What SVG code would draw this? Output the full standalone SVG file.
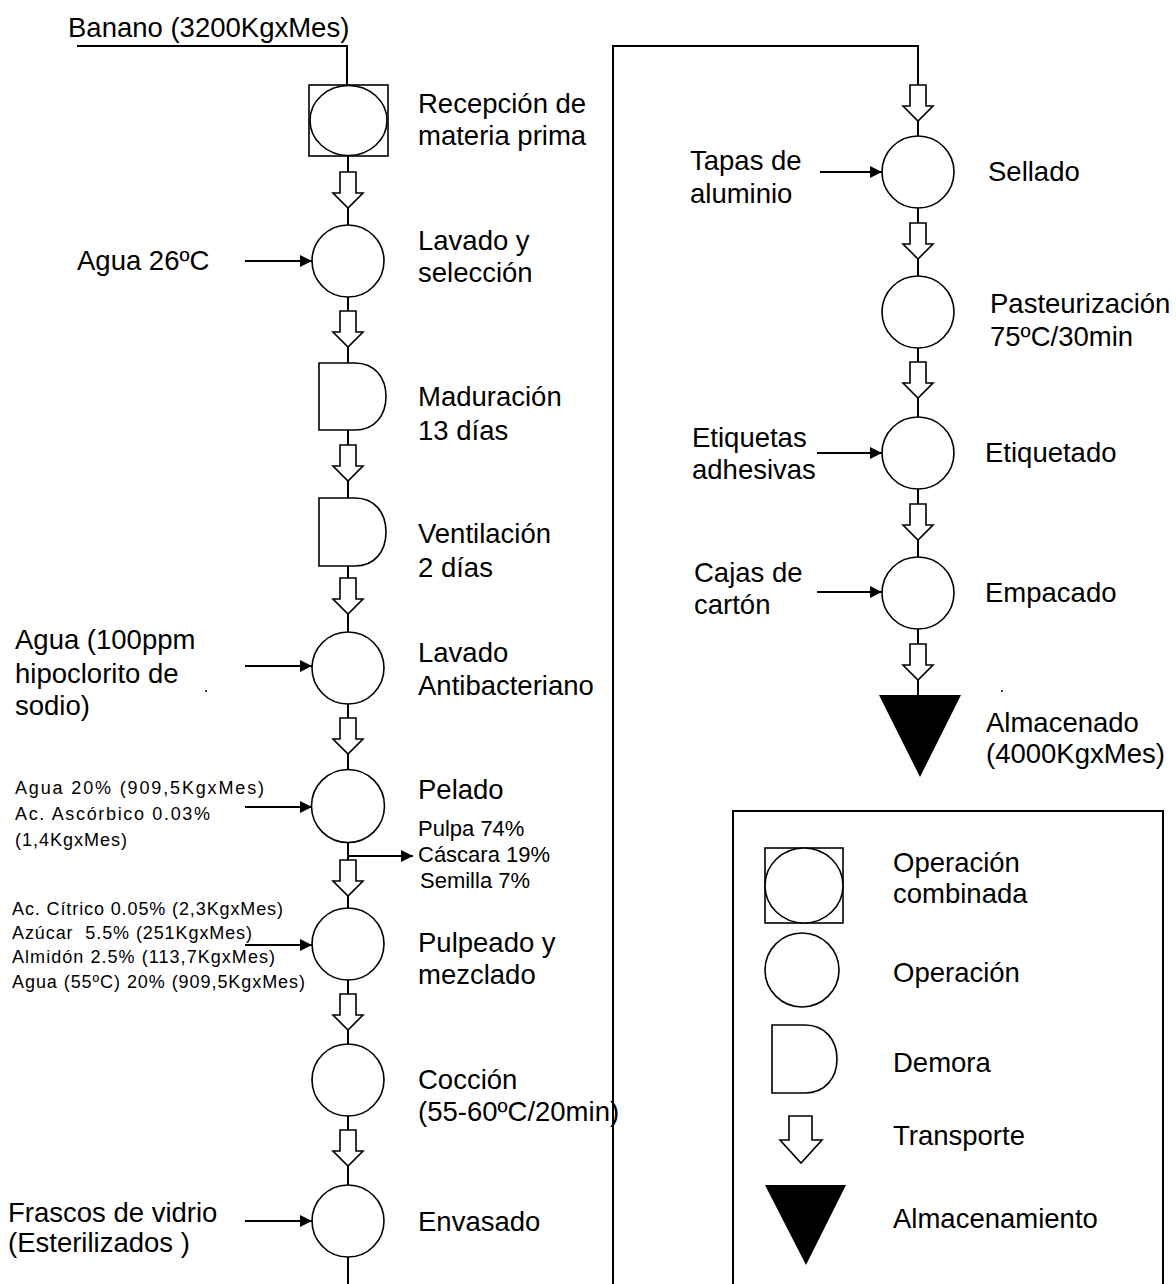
<svg xmlns="http://www.w3.org/2000/svg" xmlns:xlink="http://www.w3.org/1999/xlink" width="1176" height="1284" viewBox="0 0 1176 1284">
<style>
  text { font-family: "Liberation Sans", Arial, sans-serif; fill: #000; }
  .lg { font-size: 27.5px; }
  .md { font-size: 22px; }
  .sm { font-size: 18px; white-space: pre; }
  .shape { fill: #fff; stroke: #000; stroke-width: 1.6; }
  .line { fill: none; stroke: #000; stroke-width: 2; }
  .inp { fill: none; stroke: #000; stroke-width: 2; marker-end: url(#ah); }
  .tr { fill: #fff; stroke: #000; stroke-width: 1.6; }
  .st { fill: #000; stroke: none; }
</style>
<defs>
  <marker id="ah" markerUnits="userSpaceOnUse" viewBox="0 0 12 12" refX="12" refY="6" markerWidth="12" markerHeight="12" orient="auto">
    <path d="M0,0 L12,6 L0,12 Z" fill="#000"/>
  </marker>
  <path id="tr" class="tr" d="M-8,0 H8 V21 H15 L0,36 L-15,21 H-8 Z"/>
</defs>

<g id="connectors">
  <!-- left column -->
  <path class="line" d="M77,46 H347 V85"/>
  <path class="line" d="M348,156 V172 M348,208 V225"/>
  <path class="line" d="M348,297 V311 M348,347 V363"/>
  <path class="line" d="M348,430 V445 M348,481 V498"/>
  <path class="line" d="M348,566 V578 M348,614 V632"/>
  <path class="line" d="M348,704 V718 M348,754 V770"/>
  <path class="line" d="M348,843 V860 M348,896 V908"/>
  <path class="line" d="M348,980 V994 M348,1030 V1044"/>
  <path class="line" d="M348,1116 V1130 M348,1166 V1185"/>
  <path class="line" d="M348,1257 V1284"/>
  <path class="inp" d="M348,856 H413"/>
  <path class="inp" d="M245,261 H312"/>
  <path class="inp" d="M245,666 H312"/>
  <path class="inp" d="M245,807 H312"/>
  <path class="inp" d="M245,945 H312"/>
  <path class="inp" d="M245,1221 H312"/>
  <!-- right column -->
  <path class="line" d="M613,1284 V46 H918 V85"/>
  <path class="line" d="M918,121 V136"/>
  <path class="line" d="M918,208 V223 M918,259 V276"/>
  <path class="line" d="M918,348 V362 M918,398 V417"/>
  <path class="line" d="M918,489 V504 M918,540 V557"/>
  <path class="line" d="M918,629 V644 M918,680 V695"/>
  <path class="inp" d="M820,172 H882"/>
  <path class="inp" d="M817,453 H882"/>
  <path class="inp" d="M817,592 H882"/>
  <!-- transport arrows -->
  <use xlink:href="#tr" x="348" y="172"/>
  <use xlink:href="#tr" x="348" y="311"/>
  <use xlink:href="#tr" x="348" y="445"/>
  <use xlink:href="#tr" x="348" y="578"/>
  <use xlink:href="#tr" x="348" y="718"/>
  <use xlink:href="#tr" x="348" y="860"/>
  <use xlink:href="#tr" x="348" y="994"/>
  <use xlink:href="#tr" x="348" y="1130"/>
  <use xlink:href="#tr" x="918" y="85"/>
  <use xlink:href="#tr" x="918" y="223"/>
  <use xlink:href="#tr" x="918" y="362"/>
  <use xlink:href="#tr" x="918" y="504"/>
  <use xlink:href="#tr" x="918" y="644"/>
</g>

<text class="lg" x="68" y="37">Banano (3200KgxMes)</text>

<g id="recepcion">
  <rect class="shape" x="309" y="85" width="79" height="71"/>
  <ellipse class="shape" cx="348.5" cy="120.5" rx="38.5" ry="35"/>
  <text class="lg" x="418" y="113">Recepción de</text>
  <text class="lg" x="418" y="145">materia prima</text>
</g>

<g id="lavado">
  <circle class="shape" cx="348" cy="261" r="36"/>
  <text class="lg" x="418" y="250">Lavado y</text>
  <text class="lg" x="418" y="282">selección</text>
  <text class="lg" x="77" y="270">Agua 26ºC</text>
</g>

<g id="maduracion">
  <path class="shape" d="M319,363 H355 C375,363 386,378 386,396.5 C386,415 375,430 355,430 H319 Z"/>
  <text class="lg" x="418" y="406">Maduración</text>
  <text class="lg" x="418" y="440">13 días</text>
</g>

<g id="ventilacion">
  <path class="shape" d="M319,498 H355 C375,498 386,513 386,532 C386,551 375,566 355,566 H319 Z"/>
  <text class="lg" x="418" y="543">Ventilación</text>
  <text class="lg" x="418" y="577">2 días</text>
</g>

<g id="lavado-anti">
  <circle class="shape" cx="348" cy="668" r="36"/>
  <text class="lg" x="418" y="662">Lavado</text>
  <text class="lg" x="418" y="695">Antibacteriano</text>
  <text class="lg" x="15" y="649">Agua (100ppm</text>
  <text class="lg" x="15" y="683">hipoclorito de</text>
  <text class="lg" x="15" y="715">sodio)</text>
  <circle cx="206" cy="691" r="1" fill="#000"/>
</g>

<g id="pelado">
  <circle class="shape" cx="348" cy="806" r="36.5"/>
  <text class="lg" x="418" y="799">Pelado</text>
  <text class="sm" x="15" y="794" textLength="249" lengthAdjust="spacing">Agua 20% (909,5KgxMes)</text>
  <text class="sm" x="15" y="820" textLength="195" lengthAdjust="spacing">Ac. Ascórbico 0.03%</text>
  <text class="sm" x="15" y="846" textLength="112" lengthAdjust="spacing">(1,4KgxMes)</text>
  <text class="md" x="418" y="836">Pulpa 74%</text>
  <text class="md" x="418" y="862">Cáscara 19%</text>
  <text class="md" x="420" y="888">Semilla 7%</text>
</g>

<g id="pulpeado">
  <circle class="shape" cx="348" cy="944" r="36"/>
  <text class="lg" x="418" y="952">Pulpeado y</text>
  <text class="lg" x="418" y="984">mezclado</text>
  <text class="sm" x="12" y="915" textLength="271" lengthAdjust="spacing">Ac. Cítrico 0.05% (2,3KgxMes)</text>
  <text class="sm" x="12" y="939" textLength="240" lengthAdjust="spacing" xml:space="preserve">Azúcar  5.5% (251KgxMes)</text>
  <text class="sm" x="12" y="963" textLength="263" lengthAdjust="spacing">Almidón 2.5% (113,7KgxMes)</text>
  <text class="sm" x="12" y="988" textLength="293" lengthAdjust="spacing">Agua (55ºC) 20% (909,5KgxMes)</text>
</g>

<g id="coccion">
  <circle class="shape" cx="348" cy="1080" r="36"/>
  <text class="lg" x="418" y="1089">Cocción</text>
  <text class="lg" x="418" y="1121">(55-60ºC/20min)</text>
</g>

<g id="envasado">
  <circle class="shape" cx="348" cy="1221" r="36"/>
  <text class="lg" x="418" y="1231">Envasado</text>
  <text class="lg" x="8" y="1222">Frascos de vidrio</text>
  <text class="lg" x="8" y="1252">(Esterilizados )</text>
</g>

<g id="sellado">
  <circle class="shape" cx="918" cy="172" r="36"/>
  <text class="lg" x="988" y="181">Sellado</text>
  <text class="lg" x="690" y="170">Tapas de</text>
  <text class="lg" x="690" y="203">aluminio</text>
</g>

<g id="pasteurizacion">
  <circle class="shape" cx="918" cy="312" r="36"/>
  <text class="lg" x="990" y="313">Pasteurización</text>
  <text class="lg" x="990" y="346">75ºC/30min</text>
</g>

<g id="etiquetado">
  <circle class="shape" cx="918" cy="453" r="36"/>
  <text class="lg" x="985" y="462">Etiquetado</text>
  <text class="lg" x="692" y="447">Etiquetas</text>
  <text class="lg" x="692" y="479">adhesivas</text>
</g>

<g id="empacado">
  <circle class="shape" cx="918" cy="593" r="36"/>
  <text class="lg" x="985" y="602">Empacado</text>
  <text class="lg" x="694" y="582">Cajas de</text>
  <text class="lg" x="694" y="614">cartón</text>
</g>

<g id="almacenado">
  <path class="st" d="M879,695 H961 L920,777 Z"/>
  <text class="lg" x="986" y="732">Almacenado</text>
  <text class="lg" x="986" y="763">(4000KgxMes)</text>
  <circle cx="1002" cy="691" r="1" fill="#000"/>
</g>

<g id="legend">
  <path class="line" d="M733,1284 V811 H1163 V1284"/>
  <rect class="shape" x="765" y="848" width="78" height="75"/>
  <ellipse class="shape" cx="804" cy="885.5" rx="39" ry="37.5"/>
  <text class="lg" x="893" y="872">Operación</text>
  <text class="lg" x="893" y="903">combinada</text>
  <circle class="shape" cx="802" cy="970" r="37"/>
  <text class="lg" x="893" y="982">Operación</text>
  <path class="shape" d="M772,1025 H805 C825,1025 837,1040 837,1059 C837,1078 825,1093 805,1093 H772 Z"/>
  <text class="lg" x="893" y="1072">Demora</text>
  <path class="tr" d="M789,1116 H812 V1140 H822 L801,1163 L780,1140 H789 Z"/>
  <text class="lg" x="893" y="1145">Transporte</text>
  <path class="st" d="M765,1185 H846 L806,1265 Z"/>
  <text class="lg" x="893" y="1228">Almacenamiento</text>
</g>
</svg>
